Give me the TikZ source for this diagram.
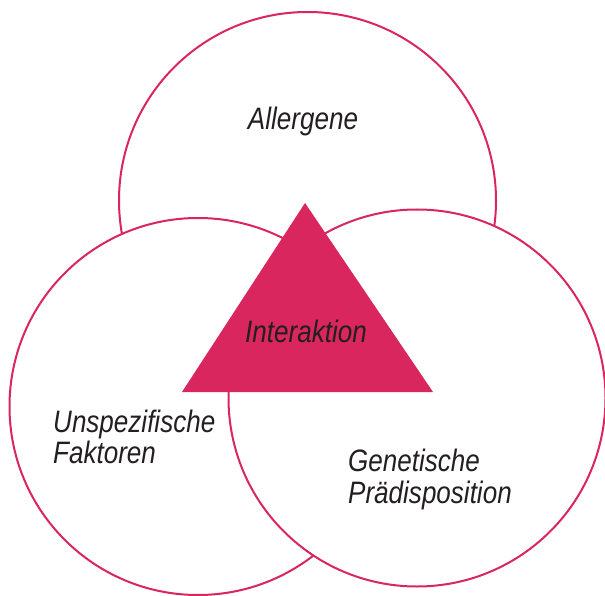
\documentclass[tikz,border=0pt]{standalone}
\usepackage{fontspec}
\setmainfont{Liberation Sans}[FakeStretch=0.84]
\definecolor{crim}{HTML}{D9265E}
\definecolor{txt}{HTML}{231F20}
\begin{document}
\begin{tikzpicture}[x=1pt,y=-1pt,
  venn/.style={circle,draw=crim,line width=2pt,fill=white,inner sep=0pt,minimum size=377pt},
  lbl/.style={text=txt,font=\fontsize{31}{31}\selectfont\itshape,inner sep=0pt,align=left}]
\useasboundingbox (0,0) rectangle (605,596);
\node[venn] (top) at (307.5,200.5) {};
\node[venn] (left) at (198,406.5) {};
\node[venn] (right) at (417,398) {};
\coordinate (apex) at (305,203);
\coordinate (bl) at (182,392);
\coordinate (br) at (433,392);
\fill[crim] (apex) -- (bl) -- (br) -- cycle;
\node[lbl,anchor=base] (allergene) at (303,130) {Allergene};
\node[lbl,anchor=base] (inter) at (306,342) {Interaktion};
\node[lbl,anchor=base west] (unsp) at (53,432) {Unspezifische};
\node[lbl,anchor=base west] (fakt) at (53,463) {Faktoren};
\node[lbl,anchor=base west] (gen) at (348,471) {Genetische};
\node[lbl,anchor=base west] (praed) at (348,503) {Prädisposition};
\end{tikzpicture}
\end{document}
